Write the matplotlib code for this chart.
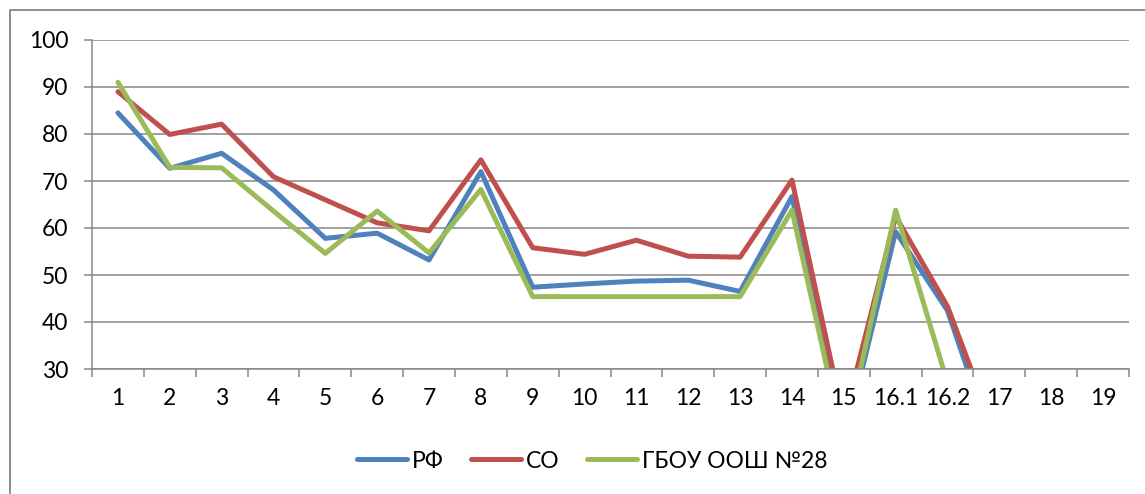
import matplotlib.pyplot as plt
import numpy as np
from matplotlib.lines import Line2D

plt.rcParams['font.family'] = ['Lato', 'Noto Sans', 'DejaVu Sans']

categories = ["1", "2", "3", "4", "5", "6", "7", "8", "9", "10", "11", "12",
              "13", "14", "15", "16.1", "16.2", "17", "18", "19"]
nan = np.nan
rf = [84.5, 72.7, 75.9, 68.1, 57.8, 58.9, 53.2, 72.0, 47.4, 48.1, 48.7, 48.9,
      46.5, 66.7, 14, 59.2, 42.4, 10, nan, nan]
so = [89.0, 79.9, 82.1, 70.9, 66.0, 61.1, 59.4, 74.5, 55.8, 54.4, 57.4, 54.0,
      53.8, 70.2, 19, 62.5, 43.3, 14, nan, nan]
school = [91.0, 72.9, 72.8, 63.6, 54.6, 63.6, 54.7, 68.2, 45.4, 45.4, 45.4, 45.4,
          45.4, 63.8, 14, 63.8, 27, nan, nan, nan]

series = [("РФ", rf, "#4F81BD"), ("СО", so, "#C0504D"), ("ГБОУ ООШ №28", school, "#9BBB59")]
GRID = "#868686"

fig = plt.figure(figsize=(11.45, 4.94), dpi=100)
# outer chart border (only left and top edges are inside the picture)
bx, by = 9.5 / 1145, 1 - 10.5 / 494
fig.add_artist(Line2D([bx, bx, 1.0], [0, by, by], transform=fig.transFigure,
                      color=GRID, linewidth=1.3))

ax = fig.add_axes([92 / 1145, 1 - 369 / 494, (1129 - 92) / 1145, (369 - 40) / 494])

x = np.arange(len(categories))
handles = []
for name, vals, col in series:
    h, = ax.plot(x, vals, color=col, linewidth=3.6, solid_capstyle="round",
                 solid_joinstyle="round", label=name)
    handles.append(h)

ax.set_ylim(30, 100)
ax.set_xlim(-0.5, len(categories) - 0.5)
ax.set_yticks(range(30, 101, 10))
ax.set_xticks(x)
ax.set_xticklabels(categories)
ax.set_xticks(np.arange(-0.5, len(categories), 1), minor=True)
ax.yaxis.grid(True, color=GRID, linewidth=1.1)
ax.set_axisbelow(True)

for s in ["top", "right"]:
    ax.spines[s].set_visible(False)
for s in ["left", "bottom"]:
    ax.spines[s].set_color(GRID)
    ax.spines[s].set_linewidth(1.1)

ax.tick_params(axis="y", length=6, color=GRID, width=1.1, labelsize=16.5, pad=11)
ax.tick_params(axis="x", which="major", length=0, labelsize=16.5, pad=14)
ax.tick_params(axis="x", which="minor", length=6, color=GRID, width=1.1)

fig.legend(handles=handles, loc="center", bbox_to_anchor=(592 / 1145, 1 - 461 / 494),
           ncol=3, frameon=False, fontsize=16.5, handlelength=2.2, handletextpad=0.2,
           columnspacing=1.2)

fig.savefig("out.png", dpi=100)
